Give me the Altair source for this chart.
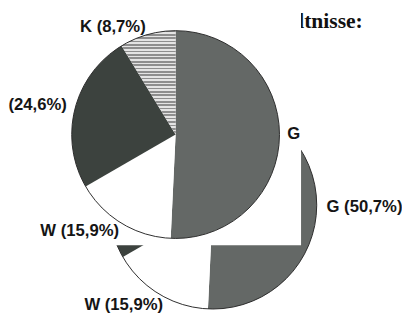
import math
import altair as alt
import pandas as pd

# ---- data ----
categories = ["G", "W", "B", "K"]
shares = [50.7, 15.9, 24.6, 8.7]
heading_text = "Verhältnisse:"
upper_labels = ["K (8,7%)", "(24,6%)", "W (15,9%)", "G"]
lower_labels = ["G (50,7%)", "W (15,9%)"]

# ---- styling ----
fills = ["#646866", "#ffffff", "#3c423e", "#b8b8b8"]
R = 106
FONT = "Liberation Sans"

pie_df = pd.DataFrame({"cat": categories, "share": shares, "idx": list(range(len(categories)))})
one = pd.DataFrame({"a": [0]})

# horizontal stripe gradient for the K wedge
n = 31
stops = []
for i in range(n):
    stops += [
        {"offset": i / n, "color": "#8e8e8e"},
        {"offset": (i + 0.5) / n, "color": "#8e8e8e"},
        {"offset": (i + 0.5) / n, "color": "#e4e4e4"},
        {"offset": (i + 1) / n, "color": "#e4e4e4"},
    ]
stripe_fill = {"gradient": "linear", "x1": 0, "y1": 0, "x2": 0, "y2": 1, "stops": stops}


def pie(cx, cy):
    base = (
        alt.Chart(pie_df)
        .transform_joinaggregate(total="sum(share)")
        .transform_window(cum="sum(share)", sort=[alt.SortField("idx")], frame=[None, 0])
        .transform_calculate(
            t1="datum.cum / datum.total * 2 * PI",
            t0="(datum.cum - datum.share) / datum.total * 2 * PI",
        )
    )
    wedges = base.mark_arc(radius=R, strokeWidth=0).encode(
        theta=alt.Theta("t0:Q", scale=None),
        theta2="t1:Q",
        color=alt.Color("cat:N", scale=alt.Scale(domain=categories, range=fills), legend=None),
        x=alt.value(cx),
        y=alt.value(cy),
    )
    stripes = base.transform_filter("datum.cat == 'K'").mark_arc(
        radius=R, fill=stripe_fill, strokeWidth=0
    ).encode(
        theta=alt.Theta("t0:Q", scale=None),
        theta2="t1:Q",
        x=alt.value(cx),
        y=alt.value(cy),
    )
    outline = alt.Chart(one).mark_arc(
        radius=R, theta=0, theta2=2 * math.pi, fill="white", fillOpacity=0,
        stroke="#2b2b2b", strokeWidth=1,
    ).encode(x=alt.value(cx), y=alt.value(cy))
    return [wedges, stripes, outline]


def label(text, x, y, align="left", size=17):
    return alt.Chart(one).mark_text(
        text=text, align=align, baseline="middle", font=FONT, fontSize=size,
        fontWeight="bold", color="#151515",
    ).encode(x=alt.value(x), y=alt.value(y))


heading = alt.Chart(one).mark_text(
    text=heading_text, align="right", baseline="alphabetic", font="Liberation Serif",
    fontSize=22, fontWeight="bold", color="#111111",
).encode(x=alt.value(362), y=alt.value(17))

lower = pie(209, 198)
lower_text = [
    label(lower_labels[0], 325, 200),
    label(lower_labels[1], 78, 300),
]

cover = alt.Chart(one).mark_rect(fill="white").encode(
    x=alt.value(0), x2=alt.value(299), y=alt.value(0), y2=alt.value(239)
)

upper = pie(171, 126)
upper_text = [
    label(upper_labels[0], 107, 16, align="center"),
    label(upper_labels[1], 60, 96, align="right"),
    label(upper_labels[2], 33, 225),
    label(upper_labels[3], 285, 126),
]

chart = alt.layer(
    heading, *lower, *lower_text, cover, *upper, *upper_text
).properties(
    width=402, height=308, autosize=alt.AutoSizeParams(type="none"), padding=0
).configure_view(stroke=None)

chart.save("out.html", embed_options={"renderer": "svg", "actions": False})
